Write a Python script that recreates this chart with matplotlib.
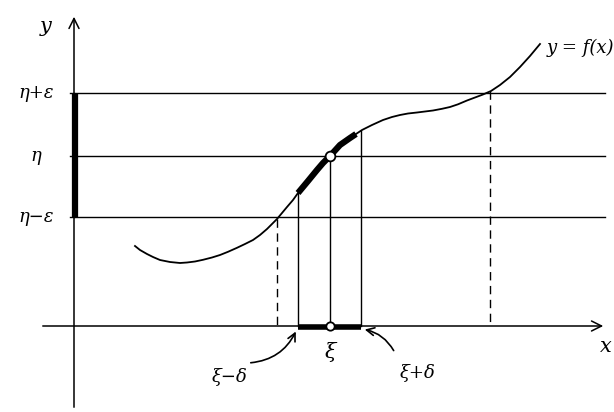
import numpy as np
import matplotlib.pyplot as plt
from matplotlib.patches import FancyArrowPatch

# sketch, in pixel units (y grows downwards)
curve_x = np.array([135, 140, 147, 153, 160, 170, 180, 187, 195, 203, 212, 220, 228, 237,
                    245, 253, 260, 267, 272, 277, 282, 287, 293, 298, 308, 317, 323, 330,
                    340, 350, 356, 362, 372, 383, 392, 400, 408, 417, 425, 433, 442, 450,
                    458, 467, 475, 483, 491, 500, 510, 520, 530, 540])
curve_y = np.array([246, 250, 254, 257, 260, 262, 263, 262.5, 261.5, 259.8, 257.5, 255,
                    251.8, 247.8, 244, 240, 235, 229, 224, 219, 213, 207, 200, 193, 181,
                    170, 163, 156, 145, 138, 134, 130, 125, 120, 117, 115, 113.5, 112.5,
                    111.5, 110.5, 108.8, 107, 104.3, 100.5, 97.5, 94.5, 91, 85, 77, 67,
                    56, 44])

levels = [93, 156, 217]            # eta+eps, eta, eta-eps
level_labels = ["η+ε", "η", "η−ε"]
x_axis_y = 326
y_axis_x = 74
xi = 330
xi_lo, xi_hi = 298, 361            # xi-delta, xi+delta
dashed_x = [277, 490]              # where f crosses eta-eps and eta+eps

fig = plt.figure(figsize=(6.14, 4.12), dpi=100)
ax = fig.add_axes([0, 0, 1, 1])
ax.set_xlim(0, 614)
ax.set_ylim(412, 0)
ax.axis('off')

font = dict(family='DejaVu Serif', style='italic', color='black')
ink = 'black'

# axes with open arrow heads
ax.annotate('', xy=(y_axis_x, 14), xytext=(y_axis_x, 410),
            arrowprops=dict(arrowstyle='->', lw=1.1, color=ink, mutation_scale=18))
ax.annotate('', xy=(606, x_axis_y), xytext=(40, x_axis_y),
            arrowprops=dict(arrowstyle='->', lw=1.1, color=ink, mutation_scale=18))
ax.text(46, 26, "y", fontsize=15, ha='center', va='center', **font)
ax.text(606, 346, "x", fontsize=15, ha='center', va='center', **font)

# horizontal levels
for lev, lab in zip(levels, level_labels):
    ax.plot([y_axis_x, 605], [lev, lev], color=ink, lw=1.0)
    ax.plot([y_axis_x - 4, y_axis_x], [lev, lev], color=ink, lw=1.0)
    ax.text(36, lev, lab, fontsize=13, ha='center', va='center', **font)

# thick interval on the y axis
ax.plot([y_axis_x + 1, y_axis_x + 1], [levels[0], levels[2]], color=ink, lw=4.5,
        solid_capstyle='butt')

# the curve, thick between xi-delta and xi+delta
ax.plot(curve_x, curve_y, color=ink, lw=1.3)
sel = (curve_x >= xi_lo) & (curve_x <= xi_hi)
ax.plot(curve_x[sel], curve_y[sel], color=ink, lw=4.5, solid_capstyle='butt')
ax.text(580, 48, "y = f(x)", fontsize=13, ha='center', va='center', **font)

# verticals from the curve to the x axis
for xv in [xi_lo, xi, xi_hi]:
    yv = np.interp(xv, curve_x, curve_y)
    ax.plot([xv, xv], [yv, x_axis_y], color=ink, lw=1.0)
for xv in dashed_x:
    yv = np.interp(xv, curve_x, curve_y)
    ax.plot([xv, xv], [yv, x_axis_y], color=ink, lw=1.0, linestyle=(0, (6, 4)))

# thick interval on the x axis and the point (xi, eta)
ax.plot([xi_lo, xi_hi], [x_axis_y + 1, x_axis_y + 1], color=ink, lw=4, solid_capstyle='butt')
ax.plot([xi], [x_axis_y], 'o', ms=6, mfc='white', mec=ink, mew=1.3, zorder=5)
ax.plot([xi], [levels[1]], 'o', ms=7, mfc='white', mec=ink, mew=1.3, zorder=5)

ax.text(xi, 352, "ξ", fontsize=15, ha='center', va='center', **font)
ax.text(230, 377, "ξ−δ", fontsize=13, ha='center', va='center', **font)
ax.text(418, 373, "ξ+δ", fontsize=13, ha='center', va='center', **font)

# curved pointers to the interval ends
ax.add_patch(FancyArrowPatch((248, 363), (xi_lo - 1, x_axis_y + 3),
                             connectionstyle='arc3,rad=0.3', arrowstyle='->',
                             mutation_scale=14, lw=1.2, color=ink))
ax.add_patch(FancyArrowPatch((395, 353), (xi_hi + 1, x_axis_y + 3),
                             connectionstyle='arc3,rad=0.25', arrowstyle='->',
                             mutation_scale=14, lw=1.2, color=ink))

fig.savefig('out.png', dpi=100)
